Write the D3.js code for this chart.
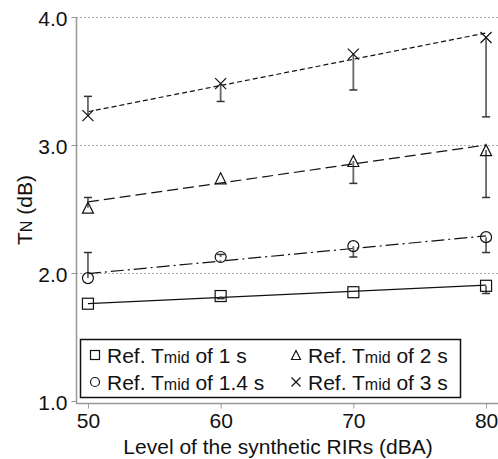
<!DOCTYPE html>
<meta charset="utf-8">
<style>
body {margin: 0; background: #fff;}
text {font-family: Arial, "Liberation Sans", sans-serif; fill: #111;}
</style>
<html>
<body>
<script src="https://d3js.org/d3.v7.min.js"></script>
<script>
var width = 498,
    height = 459;

// data
var levels = [50, 60, 70, 80];
var yTicks = [1.0, 2.0, 3.0, 4.0];
var names = ["1 s", "1.4 s", "2 s", "3 s"];
var t1   = [1.76, 1.82, 1.85, 1.90];
var t14  = [1.96, 2.125, 2.21, 2.28];
var t2   = [2.51, 2.74, 2.875, 2.96];
var t3   = [3.23, 3.48, 3.71, 3.84];
// far end of the one-sided error bars (null = none)
var t1End  = [null, 1.80, null, 1.84];
var t14End = [2.16, 2.145, 2.125, 2.16];
var t2End  = [2.59, null, 2.70, 2.59];
var t3End  = [3.38, 3.34, 3.43, 3.22];
// fitted lines, value at 50 and 80 dBA
var fitX = [50, 80];
var t1Fit  = [1.76, 1.905];
var t14Fit = [1.995, 2.29];
var t2Fit  = [2.555, 3.0];
var t3Fit  = [3.26, 3.875];

var series = [
  {name: names[0], vals: t1,  ends: t1End,  fit: t1Fit,  sym: "square",   dash: null},
  {name: names[1], vals: t14, ends: t14End, fit: t14Fit, sym: "circle",   dash: "13,4,2,4"},
  {name: names[2], vals: t2,  ends: t2End,  fit: t2Fit,  sym: "triangle", dash: "11,5"},
  {name: names[3], vals: t3,  ends: t3End,  fit: t3Fit,  sym: "cross",    dash: "5,3"}
];

var x = d3.scaleLinear().domain([49.1, 80.9]).range([76, 498]);
var y = d3.scaleLinear().domain([1, 4]).range([401, 17]);

var svg = d3.select("body").append("svg")
    .attr("width", width)
    .attr("height", height);

// grid lines
svg.selectAll(".grid")
  .data(yTicks.filter(function(d) { return d > 1; }))
  .enter().append("line")
  .attr("x1", 76).attr("x2", 498)
  .attr("y1", function(d) { return y(d) + 0.5; })
  .attr("y2", function(d) { return y(d) + 0.5; })
  .attr("stroke", "#aaa")
  .attr("stroke-dasharray", "2,2");

// axes
var yAxis = d3.axisLeft(y).tickValues(yTicks).tickSize(5).tickFormat(d3.format(".1f"));
var gy = svg.append("g").attr("transform", "translate(76.5,0)").call(yAxis);
gy.select(".domain").attr("d", "M0," + y(4) + "V" + 403);
var xAxis = d3.axisBottom(x).tickValues(levels).tickSize(5);
var gx = svg.append("g").attr("transform", "translate(0,403.5)").call(xAxis);
gx.select(".domain").attr("d", "M76,0H498");

[gx, gy].forEach(function(g) {
  g.select(".domain").attr("stroke", "#999").attr("stroke-width", 1.5);
  g.selectAll(".tick line").attr("stroke", "#999");
  g.selectAll(".tick text").style("font-size", "21px").attr("fill", "#111")
    .style("font-family", "Arial, 'Liberation Sans', sans-serif");
});
gy.selectAll(".tick text").attr("x", -9).attr("dy", "0.42em");
gx.selectAll(".tick text").attr("y", 9).attr("dy", "0.75em");

// axis titles
svg.append("text")
  .attr("x", 278).attr("y", 454)
  .attr("text-anchor", "middle")
  .style("font-size", "21px")
  .text("Level of the synthetic RIRs (dBA)");

var yt = svg.append("text")
  .attr("transform", "translate(32,210) rotate(-90)")
  .attr("text-anchor", "middle")
  .style("font-size", "21px");
yt.append("tspan").text("T");
yt.append("tspan").style("font-size", "16px").text("N");
yt.append("tspan").text(" (dB)");

function marker(g, sym, s) {
  var h = s / 2;
  if (sym === "square") {
    g.append("rect").attr("x", -h).attr("y", -h).attr("width", s).attr("height", s);
  } else if (sym === "circle") {
    g.append("circle").attr("r", h);
  } else if (sym === "triangle") {
    g.append("path").attr("d", "M0," + (-h) + "L" + h + "," + h + "L" + (-h) + "," + h + "Z");
  } else {
    g.append("path").attr("d", "M" + (-h) + "," + (-h) + "L" + h + "," + h + "M" + h + "," + (-h) + "L" + (-h) + "," + h);
  }
  g.selectAll("*").attr("fill", "none").attr("stroke", "#111").attr("stroke-width", 1.2);
}

series.forEach(function(s) {
  var g = svg.append("g");
  // fit line
  g.append("line")
    .attr("x1", x(fitX[0])).attr("x2", x(fitX[1]))
    .attr("y1", y(s.fit[0])).attr("y2", y(s.fit[1]))
    .attr("stroke", "#111").attr("stroke-width", 1.2)
    .attr("stroke-dasharray", s.dash);
  // error bars
  levels.forEach(function(lv, i) {
    if (s.ends[i] == null) return;
    var cx = x(lv);
    g.append("line")
      .attr("x1", cx).attr("x2", cx)
      .attr("y1", y(s.vals[i])).attr("y2", y(s.ends[i]))
      .attr("stroke", "#666").attr("stroke-width", 1.8);
    g.append("line")
      .attr("x1", cx - 4).attr("x2", cx + 4)
      .attr("y1", y(s.ends[i])).attr("y2", y(s.ends[i]))
      .attr("stroke", "#333").attr("stroke-width", 1.5);
  });
  // markers
  levels.forEach(function(lv, i) {
    var m = g.append("g").attr("transform", "translate(" + x(lv) + "," + y(s.vals[i]) + ")");
    marker(m, s.sym, 11);
  });
});

// legend
var legend = svg.append("g");
legend.append("rect")
  .attr("x", 80.5).attr("y", 339.5).attr("width", 380).attr("height", 58)
  .attr("fill", "#fff").attr("stroke", "#111").attr("stroke-width", 1.5);

var legPos = [[95, 355], [95, 382], [296, 355], [296, 382]];
series.forEach(function(s, i) {
  var p = legPos[i];
  var m = legend.append("g").attr("transform", "translate(" + p[0] + "," + p[1] + ")");
  marker(m, s.sym, 9);
  var t = legend.append("text")
    .attr("x", p[0] + 12).attr("y", p[1]).attr("dy", "0.36em")
    .style("font-size", "21px");
  t.append("tspan").text("Ref. T");
  t.append("tspan").style("font-size", "16px").text("mid");
  t.append("tspan").text(" of " + s.name);
});
</script>
</body>
</html>
